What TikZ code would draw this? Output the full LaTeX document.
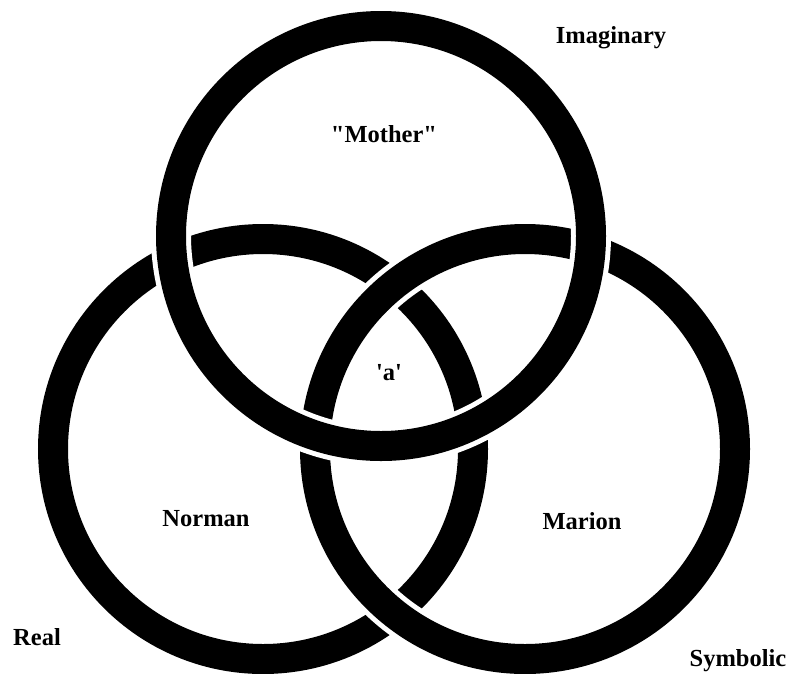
\documentclass[tikz,border=0pt]{standalone}
\usepackage{fontspec}
\newfontfamily\lab{Liberation Serif}[Ligatures=TeXOff]
\begin{document}
\begin{tikzpicture}[x=1pt,y=-1pt]
\tikzset{
  ring/.style={line width=30pt,draw=black},
  halo/.style={line width=40pt,draw=white},
  lbl/.style={font=\lab\bfseries\fontsize{24.5}{29}\selectfont,anchor=base,inner sep=0pt}
}
\fill[white] (0,0) rectangle (791,673);
\useasboundingbox (0,0) rectangle (791,673);
% Real (bottom layer)
\draw[ring] (263,449) circle[radius=210pt];
% Symbolic (over Real)
\draw[halo] (525,449) circle[radius=210pt];
\draw[ring] (525,449) circle[radius=210pt];
% Imaginary (over both)
\draw[halo] (381,236) circle[radius=210pt];
\draw[ring] (381,236) circle[radius=210pt];
% labels
\node[lbl] (imag) at (611,43) {Imaginary};
\node[lbl] (mother) at (384,142) {"Mother"};
\node[lbl] (a) at (389,380) {'a'};
\node[lbl] (norman) at (206,526) {Norman};
\node[lbl] (marion) at (582,529) {Marion};
\node[lbl] (real) at (37,645) {Real};
\node[lbl] (symb) at (738,666) {Symbolic};
\end{tikzpicture}
\end{document}
